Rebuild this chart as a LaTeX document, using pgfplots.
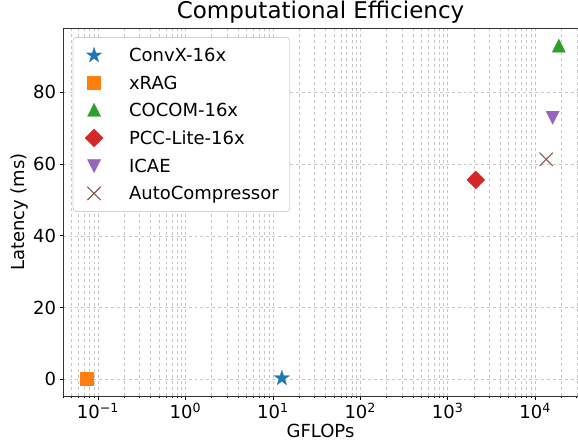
\documentclass[border=0pt]{standalone}
\usepackage{pgfplots}
\pgfplotsset{compat=1.18}
\usepackage{fontspec}
\setmainfont{DejaVu Sans}
\definecolor{tabblue}{HTML}{1F77B4}
\definecolor{taborange}{HTML}{FF7F0E}
\definecolor{tabgreen}{HTML}{2CA02C}
\definecolor{tabred}{HTML}{D62728}
\definecolor{tabpurple}{HTML}{9467BD}
\definecolor{tabbrown}{HTML}{8C564B}
\pgfdeclareplotmark{mstar}{%
  \pgfpathmoveto{\pgfpointpolar{90}{\pgfplotmarksize}}%
  \pgfpathlineto{\pgfpointpolar{126}{0.382\pgfplotmarksize}}%
  \pgfpathlineto{\pgfpointpolar{162}{\pgfplotmarksize}}%
  \pgfpathlineto{\pgfpointpolar{198}{0.382\pgfplotmarksize}}%
  \pgfpathlineto{\pgfpointpolar{234}{\pgfplotmarksize}}%
  \pgfpathlineto{\pgfpointpolar{270}{0.382\pgfplotmarksize}}%
  \pgfpathlineto{\pgfpointpolar{306}{\pgfplotmarksize}}%
  \pgfpathlineto{\pgfpointpolar{342}{0.382\pgfplotmarksize}}%
  \pgfpathlineto{\pgfpointpolar{18}{\pgfplotmarksize}}%
  \pgfpathlineto{\pgfpointpolar{54}{0.382\pgfplotmarksize}}%
  \pgfpathclose\pgfusepathqfillstroke}
\pgfdeclareplotmark{mtriup}{%
  \pgfpathmoveto{\pgfqpoint{0pt}{\pgfplotmarksize}}%
  \pgfpathlineto{\pgfqpoint{-\pgfplotmarksize}{-\pgfplotmarksize}}%
  \pgfpathlineto{\pgfqpoint{\pgfplotmarksize}{-\pgfplotmarksize}}%
  \pgfpathclose\pgfusepathqfillstroke}
\pgfdeclareplotmark{mtridown}{%
  \pgfpathmoveto{\pgfqpoint{0pt}{-\pgfplotmarksize}}%
  \pgfpathlineto{\pgfqpoint{-\pgfplotmarksize}{\pgfplotmarksize}}%
  \pgfpathlineto{\pgfqpoint{\pgfplotmarksize}{\pgfplotmarksize}}%
  \pgfpathclose\pgfusepathqfillstroke}
\pgfdeclareplotmark{mdiamond}{%
  \pgfpathmoveto{\pgfqpoint{0pt}{\pgfplotmarksize}}%
  \pgfpathlineto{\pgfqpoint{\pgfplotmarksize}{0pt}}%
  \pgfpathlineto{\pgfqpoint{0pt}{-\pgfplotmarksize}}%
  \pgfpathlineto{\pgfqpoint{-\pgfplotmarksize}{0pt}}%
  \pgfpathclose\pgfusepathqfillstroke}
\begin{document}
\begin{tikzpicture}
\path[use as bounding box] (-63bp,-50bp) rectangle (515bp,396bp);
\begin{axis}[
  at={(0,0)}, anchor=south west,
  scale only axis, width=515bp, height=368bp,
  xmode=log,
  xmin=0.0398, xmax=31000,
  ymin=-4.66, ymax=97.92,
  /pgf/number format/assume math mode=true,
  tick label style={font=\fontsize{18bp}{21bp}\selectfont},
  label style={font=\fontsize{18bp}{21bp}\selectfont},
  xtick={0.1,1,10,100,1000,10000},
  xticklabels={10\textsuperscript{−1},10\textsuperscript{0},10\textsuperscript{1},10\textsuperscript{2},10\textsuperscript{3},10\textsuperscript{4}},
  minor xtick={0.04,0.05,0.06,0.07,0.08,0.09,0.2,0.3,0.4,0.5,0.6,0.7,0.8,0.9,2,3,4,5,6,7,8,9,20,30,40,50,60,70,80,90,200,300,400,500,600,700,800,900,2000,3000,4000,5000,6000,7000,8000,9000,20000,30000},
  ytick={0,20,40,60,80},
  tick pos=left, tick align=outside,
  major tick length=3.5bp, minor tick length=2bp,
  tick style={black, line width=0.6bp},
  axis line style={black!80, line width=0.8bp},
  xmajorgrids, xminorgrids, ymajorgrids,
  major grid style={dashed, gray!45, line width=0.5bp},
  minor grid style={dashed, gray!45, line width=0.5bp},
  title={Computational Efficiency},
  title style={font=\fontsize{23bp}{27bp}\selectfont, at={(0.5,1)}, anchor=base, yshift=4bp},
  xlabel={GFLOPs},
  xlabel style={at={(axis description cs:0.5,-0.114)}, anchor=base},
  ylabel={Latency (ms)},
  ylabel style={at={(axis description cs:-0.0845,0.5)}, anchor=center},
  legend cell align=left,
  legend image code/.code={%
    \path[draw=none,fill=none] (0bp,-8bp) rectangle (20bp,8bp);
    \draw[#1] plot coordinates {(10bp,0bp)};},
  legend style={at={(axis description cs:0.0188,0.9755)}, anchor=north west,
    draw=gray!35, fill=white, rounded corners=3bp, line width=0.8bp,
    inner xsep=11bp, inner ysep=10bp,
    row sep=11.2bp, column sep=0bp,
    nodes={inner sep=0pt, text height=12.8bp, text depth=0bp},
    font=\fontsize{18bp}{21bp}\selectfont},
  /tikz/every odd column/.append style={column sep=25bp},
]
\addplot[only marks, mark=mstar, mark size=8bp, color=tabblue, mark options={line width=0.3bp, rounded corners=0pt}] coordinates {(12.7,0.3)};
\addlegendentry{ConvX-16x}
\addplot[only marks, mark=square*, mark size=6.5bp, color=taborange, mark options={line width=0.3bp, rounded corners=0pt}] coordinates {(0.075,0.1)};
\addlegendentry{xRAG}
\addplot[only marks, mark=mtriup, mark size=6.6bp, color=tabgreen, mark options={line width=0.3bp, rounded corners=0pt}] coordinates {(18700,93)};
\addlegendentry{COCOM-16x}
\addplot[only marks, mark=mdiamond, mark size=9bp, color=tabred, mark options={line width=0.3bp, rounded corners=0pt}] coordinates {(2100,55.6)};
\addlegendentry{PCC-Lite-16x}
\addplot[only marks, mark=mtridown, mark size=6.6bp, color=tabpurple, mark options={line width=0.3bp, rounded corners=0pt}] coordinates {(15900,72.9)};
\addlegendentry{ICAE}
\addplot[only marks, mark=x, mark size=9.4bp, color=tabbrown, mark options={line width=1.1bp, rounded corners=0pt}] coordinates {(13400,61.3)};
\addlegendentry{AutoCompressor}
\end{axis}
\end{tikzpicture}
\end{document}
